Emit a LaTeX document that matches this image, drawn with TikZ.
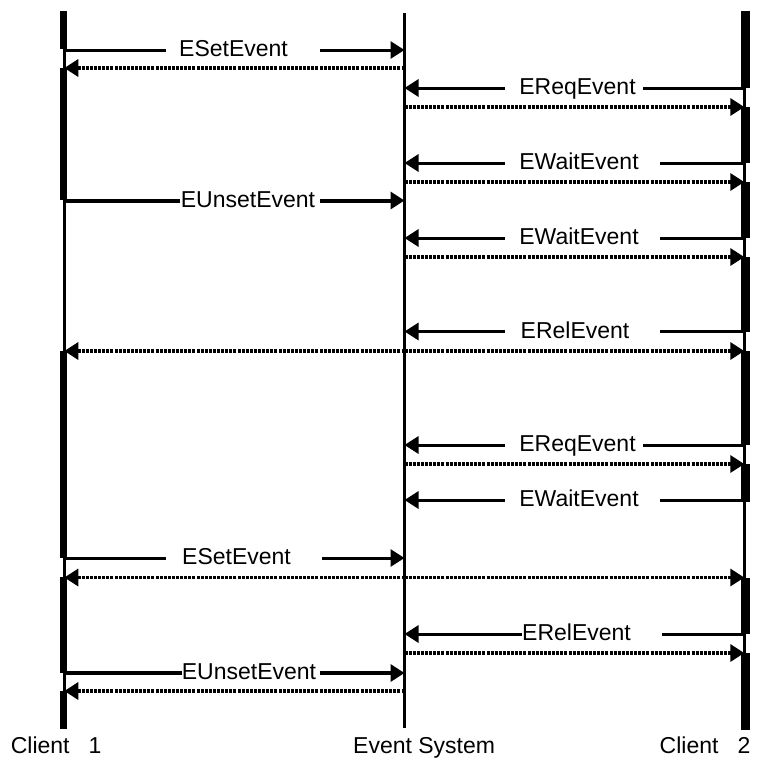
\documentclass[tikz,border=0pt]{standalone}
\usepackage{fontspec}
\setmainfont{Liberation Sans}
\usetikzlibrary{arrows.meta}

\begin{document}
\begin{tikzpicture}[x=1pt,y=-1pt,
		>={Triangle[length=14pt,width=17pt]},
		life/.style={line width=2.6pt},
		call/.style={line width=3pt,->},
		bigcall/.style={line width=4pt,->},
		reply/.style={line width=3.3pt,dash pattern=on 3pt off 1.1pt,->},
		lbl/.style={fill=white,inner xsep=0pt,inner ysep=1pt,text height=16pt,text depth=3pt,font=\fontsize{23}{27}\selectfont},
		lifename/.style={inner sep=0pt,anchor=base west,font=\fontsize{23}{27}\selectfont}]
		\useasboundingbox (0,0) rectangle (784,780);
		
		\coordinate (c1) at (64.3,11);
		\coordinate (c1end) at (64.3,729);
		\coordinate (es) at (404.5,13);
		\coordinate (esend) at (404.5,728);
		\coordinate (c2) at (744.3,11);
		\coordinate (c2end) at (744.3,730);
		
		\draw[life] (c1) to (c1end);
		\draw[life] (es) to (esend);
		\draw[life] (c2) to (c2end);
		
		\fill (59.5,11) rectangle (67,49);
		\fill (59.5,68) rectangle (67,200);
		\fill (59.5,351) rectangle (67,558);
		\fill (59.5,577) rectangle (67,673);
		\fill (59.5,691) rectangle (67,729);
		
		\fill (741,11) rectangle (750,88);
		\fill (741,107) rectangle (750,163);
		\fill (741,182) rectangle (750,238);
		\fill (741,257) rectangle (750,332);
		\fill (741,351) rectangle (750,445);
		\fill (741,464) rectangle (750,502);
		\fill (741,578) rectangle (750,634);
		\fill (741,653) rectangle (750,730);
		
		\draw[call] (c1 |- 0,50) to (es |- 0,50);
		\node[lbl,minimum width=154pt] (set1) at (243,50) {ESetEvent\hspace{19pt}\mbox{}};
		\draw[reply] (es |- 0,68) to (c1 |- 0,68);
		
		\draw[call] (c2 |- 0,88) to (es |- 0,88);
		\node[lbl,minimum width=138pt] (req1) at (574,88) {\hspace{7pt}EReqEvent};
		\draw[reply] (es |- 0,107) to (c2 |- 0,107);
		
		\draw[call] (c2 |- 0,163) to (es |- 0,163);
		\node[lbl,minimum width=155pt] (wait1) at (582.5,163) {EWaitEvent\hspace{7pt}\mbox{}};
		\draw[reply] (es |- 0,182) to (c2 |- 0,182);
		
		\draw[bigcall] (c1 |- 0,200.5) to (es |- 0,200.5);
		\node[lbl,minimum width=140pt] (unset1) at (250,200.5) {EUnsetEvent\hspace{4pt}\mbox{}};
		
		\draw[call] (c2 |- 0,238) to (es |- 0,238);
		\node[lbl,minimum width=155pt] (wait2) at (582.5,238) {EWaitEvent\hspace{7pt}\mbox{}};
		\draw[reply] (es |- 0,257) to (c2 |- 0,257);
		
		\draw[call] (c2 |- 0,331.5) to (es |- 0,331.5);
		\node[lbl,minimum width=155pt] (rel1) at (582.5,331.5) {ERelEvent\hspace{15pt}\mbox{}};
		\draw[reply] (es |- 0,351) to (c2 |- 0,351);
		\draw[reply] (es |- 0,351) to (c1 |- 0,351);
		
		\draw[call] (c2 |- 0,445) to (es |- 0,445);
		\node[lbl,minimum width=138pt] (req2) at (574,445) {\hspace{7pt}EReqEvent};
		\draw[reply] (es |- 0,464) to (c2 |- 0,464);
		
		\draw[call] (c2 |- 0,500) to (es |- 0,500);
		\node[lbl,minimum width=155pt] (wait3) at (582.5,500) {EWaitEvent\hspace{7pt}\mbox{}};
		
		\draw[call] (c1 |- 0,558) to (es |- 0,558);
		\node[lbl,minimum width=156pt] (set2) at (244,558) {ESetEvent\hspace{15pt}\mbox{}};
		\draw[reply] (es |- 0,577.5) to (c2 |- 0,577.5);
		\draw[reply] (es |- 0,577.5) to (c1 |- 0,577.5);
		
		\draw[call] (c2 |- 0,634) to (es |- 0,634);
		\node[lbl,minimum width=140pt] (rel2) at (592,634) {ERelEvent\hspace{31pt}\mbox{}};
		\draw[reply] (es |- 0,653) to (c2 |- 0,653);
		
		\draw[bigcall] (c1 |- 0,673) to (es |- 0,673);
		\node[lbl,minimum width=138pt] (unset2) at (251,673) {EUnsetEvent\hspace{4pt}\mbox{}};
		\draw[reply] (es |- 0,691) to (c1 |- 0,691);
		
		\node[lifename] (lc1) at (10.6,753) {Client\ \ \ 1};
		\node[lifename] (les) at (353,753) {Event System};
		\node[lifename] (lc2) at (659.5,753) {Client\ \ \ 2};
	\end{tikzpicture}
\end{document}
